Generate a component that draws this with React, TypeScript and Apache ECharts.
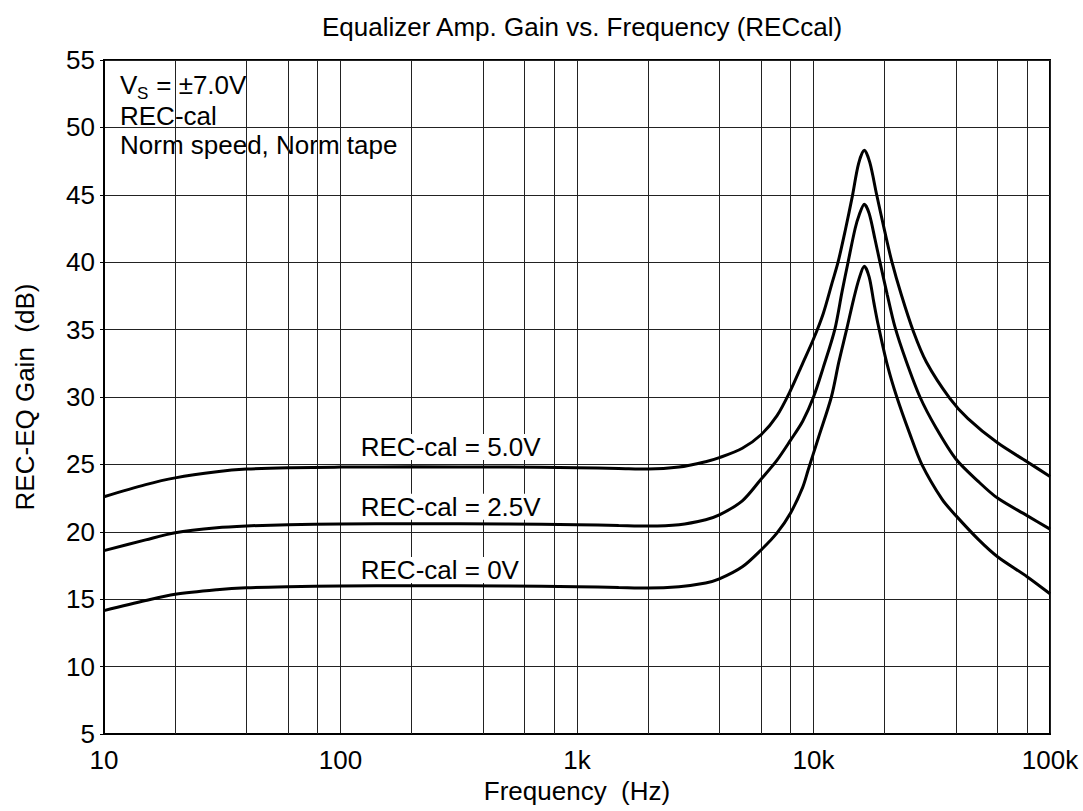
import React, { useEffect, useRef } from 'react';
import * as echarts from 'echarts';

const FONT = '"Liberation Sans", Arial, Helvetica, sans-serif';

const titleText = 'Equalizer Amp. Gain vs. Frequency (RECcal)';
const xAxisName = 'Frequency  (Hz)';
const yAxisName = 'REC-EQ Gain  (dB)';

const xTickLabels: Record<number, string> = { 10: '10', 100: '100', 1000: '1k', 10000: '10k', 100000: '100k' };
const minorGridFreqs = [20, 40, 60, 80, 200, 400, 600, 800, 2000, 4000, 6000, 8000, 20000, 40000, 60000, 80000];

// REC-cal = 5.0V
const freq5 = [10, 15, 20, 30, 40, 60, 100, 200, 500, 1000, 1500, 2000, 2700, 3500, 4000, 5000, 6000, 7000, 8000, 9000, 10000, 11000, 12000, 12700, 13600, 14600, 15500, 16400, 17300, 18500, 20000, 21400, 23500, 26400, 30000, 37700, 45000, 60000, 80000, 100000];
const gain5 = [22.6, 23.5, 24.0, 24.45, 24.65, 24.76, 24.8, 24.82, 24.8, 24.76, 24.7, 24.65, 24.8, 25.2, 25.5, 26.2, 27.2, 28.6, 30.5, 32.5, 34.3, 36.2, 38.5, 40.0, 42.3, 44.9, 47.3, 48.3, 47.4, 45.0, 42.3, 40.1, 37.6, 34.9, 32.6, 29.9, 28.4, 26.6, 25.2, 24.1];

// REC-cal = 2.5V
const freq25 = [10, 15, 20, 30, 40, 60, 100, 200, 500, 1000, 1500, 2000, 2700, 3500, 4000, 5000, 6000, 7000, 8000, 9000, 10000, 11000, 12300, 13200, 14000, 15000, 15600, 16400, 17200, 18200, 19100, 20500, 22100, 24500, 28200, 33000, 40000, 50000, 60000, 80000, 100000];
const gain25 = [18.6, 19.4, 19.93, 20.3, 20.43, 20.53, 20.58, 20.6, 20.58, 20.53, 20.47, 20.43, 20.53, 20.9, 21.25, 22.3, 23.9, 25.3, 26.8, 28.2, 30.0, 32.2, 35.0, 37.8, 40.0, 42.5, 43.5, 44.3, 43.6, 41.7, 40.0, 37.6, 35.2, 32.8, 30.0, 27.7, 25.4, 23.7, 22.5, 21.2, 20.2];

// REC-cal = 0V
const freq0 = [10, 15, 20, 30, 40, 60, 100, 200, 500, 1000, 1500, 2000, 2700, 3500, 4000, 5000, 6000, 7000, 8000, 9000, 9500, 10500, 11900, 12800, 13800, 14800, 15600, 16400, 17200, 18000, 18800, 20500, 22500, 25500, 28700, 35000, 40000, 50000, 60000, 80000, 100000];
const gain0 = [14.15, 14.9, 15.36, 15.7, 15.85, 15.93, 15.98, 16.0, 15.98, 15.93, 15.87, 15.83, 15.93, 16.2, 16.5, 17.4, 18.65, 19.9, 21.4, 23.3, 24.6, 27.0, 30.0, 32.6, 35.0, 37.3, 38.8, 39.7, 38.9, 37.0, 35.3, 32.4, 30.0, 27.3, 25.0, 22.4, 21.2, 19.4, 18.15, 16.67, 15.4];

const seriesNames = ['REC-cal = 5.0V', 'REC-cal = 2.5V', 'REC-cal = 0V'];

const pairs = (f: number[], g: number[]) => f.map((v, i) => [v, g[i]]);

export default function App() {
  const ref = useRef<HTMLDivElement>(null);
  useEffect(() => {
    if (!ref.current) return;
    const chart = echarts.init(ref.current, undefined, { renderer: 'svg' });
    const fs = 26;
    const curveLabel = (text: string, coord: number[]) => ({
      symbol: 'rect',
      symbolSize: 0,
      silent: true,
      data: [{ coord }],
      label: {
        show: true,
        position: 'right',
        distance: 0,
        formatter: text,
        color: '#000',
        fontSize: fs,
        fontFamily: FONT,
        backgroundColor: '#fff',
        padding: [0, 5],
      },
    });
    const curve = (name: string, data: number[][], labelCoord: number[]) => ({
      name,
      type: 'line',
      data,
      smooth: 0.3,
      showSymbol: false,
      symbol: 'none',
      z: 5,
      lineStyle: { color: '#000', width: 3 },
      markPoint: curveLabel(name, labelCoord),
    });
    chart.setOption({
      animation: false,
      backgroundColor: '#fff',
      title: {
        text: titleText,
        left: 577,
        top: 9,
        textAlign: 'center',
        textStyle: { fontSize: fs, fontWeight: 'normal', color: '#000', fontFamily: FONT },
      },
      grid: { left: 104, right: 33, top: 60, bottom: 77, show: true, borderColor: '#000', borderWidth: 2, containLabel: false },
      xAxis: {
        type: 'log',
        logBase: 10,
        min: 10,
        max: 100000,
        name: xAxisName,
        nameLocation: 'middle',
        nameGap: 44,
        nameTextStyle: { fontSize: fs, color: '#000', fontFamily: FONT },
        axisLine: { lineStyle: { color: '#000', width: 2 } },
        axisTick: { show: false },
        axisLabel: { formatter: (v: number) => xTickLabels[Math.round(v)] ?? '', fontSize: fs, color: '#000', fontFamily: FONT, margin: 13 },
        splitLine: { show: true, lineStyle: { color: '#222', width: 1 } },
        minorTick: { show: false },
      },
      yAxis: {
        type: 'value',
        min: 5,
        max: 55,
        interval: 5,
        name: yAxisName,
        nameLocation: 'middle',
        nameGap: 66,
        nameTextStyle: { fontSize: fs, color: '#000', fontFamily: FONT },
        axisLine: { show: true, lineStyle: { color: '#000', width: 2 } },
        axisTick: { show: true, length: 4, lineStyle: { color: '#000', width: 1 } },
        axisLabel: { fontSize: fs, color: '#000', fontFamily: FONT, margin: 9 },
        splitLine: { show: true, lineStyle: { color: '#222', width: 1 } },
      },
      series: [
        {
          name: 'grid',
          type: 'line',
          data: [[10, 5]],
          showSymbol: false,
          symbol: 'none',
          silent: true,
          z: 1,
          lineStyle: { opacity: 0 },
          markLine: {
            silent: true,
            symbol: ['none', 'none'],
            label: { show: false },
            lineStyle: { color: '#222', width: 1, type: 'solid' },
            data: minorGridFreqs.map((f) => ({ xAxis: f })),
          },
        },
        curve(seriesNames[0], pairs(freq5, gain5), [116, 26.3]),
        curve(seriesNames[1], pairs(freq25, gain25), [116, 21.86]),
        curve(seriesNames[2], pairs(freq0, gain0), [116, 17.17]),
      ],
      graphic: [
        {
          type: 'group',
          z: 100,
          children: [
            { type: 'rect', shape: { x: 105, y: 61, width: 298, height: 102 }, style: { fill: '#fff' } },
            { type: 'text', x: 120, y: 85, style: { text: 'V', font: `${fs}px ${FONT}`, fill: '#000', verticalAlign: 'middle', textVerticalAlign: 'middle' } },
            { type: 'text', x: 137, y: 93, style: { text: 'S', font: `17px ${FONT}`, fill: '#000', verticalAlign: 'middle', textVerticalAlign: 'middle' } },
            { type: 'text', x: 149, y: 85, style: { text: ' = ±7.0V', font: `${fs}px ${FONT}`, fill: '#000', verticalAlign: 'middle', textVerticalAlign: 'middle' } },
            { type: 'text', x: 120, y: 116, style: { text: 'REC-cal', font: `${fs}px ${FONT}`, fill: '#000', verticalAlign: 'middle', textVerticalAlign: 'middle' } },
            { type: 'text', x: 120, y: 145, style: { text: 'Norm speed, Norm tape', font: `${fs}px ${FONT}`, fill: '#000', verticalAlign: 'middle', textVerticalAlign: 'middle' } },
          ],
        },
      ],
    });
    return () => chart.dispose();
  }, []);
  return <div ref={ref} style={{ position: 'fixed', left: 0, top: 0, width: 1083, height: 811, background: '#fff' }} />;
}
